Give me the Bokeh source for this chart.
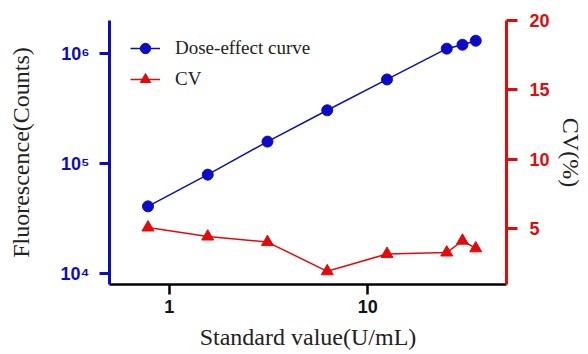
from bokeh.plotting import figure
from bokeh.models import (Range1d, LinearAxis, LinearScale, FixedTicker, Legend,
                          LegendItem)
from bokeh.embed import file_html
from bokeh.resources import INLINE

# ---- data ----
standard = [0.78125, 1.5625, 3.125, 6.25, 12.5, 25, 30, 35]
fluorescence = [41000, 79600, 158800, 306000, 583000, 1110000, 1205000, 1310000]
cv = [5.1, 4.45, 4.05, 1.95, 3.2, 3.3, 4.15, 3.6]
x_ticks = [1, 10]
x_tick_labels = ["1", "10"]
y_ticks = [10000, 100000, 1000000]
y_tick_labels = ["10\u2074", "10\u2075", "10\u2076"]
cv_ticks = [5, 10, 15, 20]

BLUE = "#0c0cc8"
RED = "#e50a0a"
SERIF = "Liberation Serif"
SANS = "Liberation Sans"

p = figure(width=586, height=352, x_axis_type="log", y_axis_type="log",
           x_range=Range1d(0.5, 50), y_range=Range1d(8000, 2000000),
           output_backend="svg", toolbar_location=None,
           min_border_left=109, min_border_right=78,
           min_border_top=20, min_border_bottom=67)
p.extra_y_ranges = {"cv": Range1d(1, 20)}
p.extra_y_scales = {"cv": LinearScale()}
p.outline_line_color = None
p.xgrid.visible = False
p.ygrid.visible = False
p.background_fill_color = "white"
p.border_fill_color = "white"

# x axis
xa = p.xaxis[0]
xa.ticker = FixedTicker(ticks=x_ticks, minor_ticks=[])
xa.major_label_overrides = dict(zip(x_ticks, x_tick_labels))
xa.axis_line_color = "black"
xa.axis_line_width = 2.5
xa.major_tick_line_color = "black"
xa.major_tick_line_width = 2.5
xa.major_tick_out = 10
xa.major_tick_in = 0
xa.minor_tick_line_color = None
xa.major_label_text_font = SANS
xa.major_label_text_font_style = "bold"
xa.major_label_text_font_size = "18px"
xa.major_label_text_color = "#111111"
xa.major_label_standoff = 5
xa.axis_label = "Standard value(U/mL)"
xa.axis_label_text_font = SERIF
xa.axis_label_text_font_style = "normal"
xa.axis_label_text_font_size = "24px"
xa.axis_label_text_color = "#222222"
xa.axis_label_standoff = 8

# left axis
ya = p.yaxis[0]
ya.ticker = FixedTicker(ticks=y_ticks, minor_ticks=[])
ya.major_label_overrides = dict(zip(y_ticks, y_tick_labels))
ya.axis_line_color = BLUE
ya.axis_line_width = 3
ya.major_tick_line_color = BLUE
ya.major_tick_line_width = 3
ya.major_tick_out = 10
ya.major_tick_in = 0
ya.minor_tick_line_color = None
ya.major_label_text_font = SANS
ya.major_label_text_font_style = "bold"
ya.major_label_text_font_size = "18px"
ya.major_label_text_color = BLUE
ya.major_label_standoff = 10
ya.axis_label = "Fluorescence(Counts)"
ya.axis_label_text_font = SERIF
ya.axis_label_text_font_style = "normal"
ya.axis_label_text_font_size = "24px"
ya.axis_label_text_color = "#222222"
ya.axis_label_standoff = 24

# right axis
ra = LinearAxis(y_range_name="cv")
ra.ticker = FixedTicker(ticks=cv_ticks, minor_ticks=[])
ra.axis_line_color = RED
ra.axis_line_width = 3
ra.major_tick_line_color = RED
ra.major_tick_line_width = 3
ra.major_tick_out = 11
ra.major_tick_in = 0
ra.minor_tick_line_color = None
ra.major_label_text_font = SANS
ra.major_label_text_font_style = "bold"
ra.major_label_text_font_size = "18px"
ra.major_label_text_color = RED
ra.major_label_standoff = 12
ra.axis_label = "CV(%)"
ra.axis_label_text_font = SERIF
ra.axis_label_text_font_style = "normal"
ra.axis_label_text_font_size = "24px"
ra.axis_label_text_color = "#222222"
ra.axis_label_standoff = 5
p.add_layout(ra, "right")

# series
l1 = p.line(standard, fluorescence, line_color=BLUE, line_width=1.5)
s1 = p.scatter(standard, fluorescence, marker="circle", size=11,
               fill_color=BLUE, line_color=BLUE)
l2 = p.line(standard, cv, y_range_name="cv", line_color=RED, line_width=1.5)
s2 = p.scatter(standard, cv, y_range_name="cv", marker="triangle", size=12,
               fill_color=RED, line_color=RED)

legend = Legend(items=[LegendItem(label="Dose-effect curve", renderers=[l1, s1]),
                       LegendItem(label="CV", renderers=[l2, s2])],
                location=(21, 192), orientation="vertical")
legend.border_line_color = None
legend.background_fill_alpha = 0
legend.padding = 6
legend.margin = 0
legend.spacing = 5
legend.glyph_width = 30
legend.glyph_height = 26
legend.label_height = 26
legend.label_standoff = 15
legend.label_text_font = SERIF
legend.label_text_font_size = "19px"
legend.label_text_color = "#222222"
p.add_layout(legend, "center")

open("out.html", "w").write(file_html(p, INLINE))
